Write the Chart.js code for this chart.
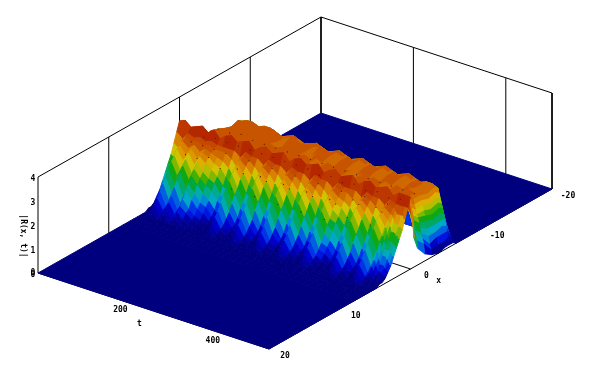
<!DOCTYPE html>
<html>
<head>
<meta charset="utf-8">
<style>
  html, body { margin: 0; padding: 0; background: #fff; }
  canvas { display: block; }
</style>
<script src="https://cdn.jsdelivr.net/npm/chart.js@4/dist/chart.umd.js"></script>
</head>
<body>
<canvas id="surface" width="591" height="367"></canvas>
<script>
// grid of the surface
const tValues = [0,12.5,25,37.5,50,62.5,75,87.5,100,112.5,125,137.5,150,162.5,175,187.5,200,212.5,225,237.5,250,262.5,275,287.5,300,312.5,325,337.5,350,362.5,375,387.5,400,412.5,425,437.5,450,462.5,475,477.5,480,482.5,485,487.5,490,492.5,495,497.5,500];
const xValues = [-7,-6.5,-6,-5.5,-5,-4,-3,-2,-1,-0.5,0,0.4,0.8,1.2,1.6,2,2.4,2.8,3.2,3.6,4,4.4,4.8,5.2,5.6,6,6.5,7,8];

// |R(x,t)|, one row per t: part behind the crest (x -7..-0.5)
const zBack = [
  [0,0,0,0,0,0,0,0,.3,1.6],
  [0,0,0,0,0,0,0,.5,1.8,2.4],
  [0,0,0,0,0,.1,.9,2.1,2.4,2.5],
  [0,0,0,.3,1,2.2,2.4,2.5,2.4,2.6],
  [0,.1,1.1,2.4,2.5,2.4,2.5,2.4,2.5,2.5],
  [0,.1,1.2,2.5,2.5,2.5,2.4,2.5,2.5,2.4],
  [0,.1,1.1,2.5,2.6,2.4,2.5,2.4,2.5,2.6],
  [0,.1,1.1,2.4,2.5,2.5,2.5,2.5,2.5,2.5],
  [0,.1,1.2,2.5,2.4,2.4,2.6,2.4,2.5,2.4],
  [0,.1,1.1,2.5,2.5,2.5,2.4,2.5,2.5,2.6],
  [0,.1,1,2.4,2.6,2.4,2.5,2.4,2.4,2.5],
  [0,.1,1.1,2.3,2.5,2.5,2.4,2.5,2.5,2.4],
  [0,.1,1.2,2.4,2.4,2.4,2.5,2.5,2.5,2.6],
  [0,.1,1.1,2.5,2.5,2.3,2.4,2.4,2.5,2.5],
  [0,.1,1,2.4,2.5,2.5,2.5,2.5,2.4,2.4],
  [0,.1,1.1,2.3,2.4,2.4,2.4,2.4,2.5,2.6],
  [0,.1,1.2,2.4,2.5,2.5,2.5,2.5,2.5,2.5],
  [0,.1,1.1,2.5,2.4,2.4,2.4,2.4,2.5,2.4],
  [0,.1,1,2.4,2.5,2.3,2.5,2.5,2.4,2.6],
  [0,.1,1.1,2.3,2.5,2.5,2.4,2.4,2.5,2.5],
  [0,.1,1.2,2.4,2.4,2.4,2.5,2.5,2.5,2.4],
  [0,.1,1.1,2.5,2.5,2.5,2.4,2.3,2.5,2.6],
  [0,.1,1,2.4,2.4,2.3,2.5,2.5,2.5,2.5],
  [0,.1,1.1,2.3,2.5,2.5,2.4,2.4,2.4,2.4],
  [0,.1,1.2,2.4,2.4,2.4,2.5,2.5,2.5,2.6],
  [0,.1,1.1,2.5,2.5,2.5,2.4,2.4,2.5,2.5],
  [0,.1,1,2.4,2.4,2.3,2.5,2.5,2.5,2.4],
  [0,.1,1.1,2.3,2.5,2.5,2.4,2.3,2.4,2.6],
  [0,.1,1.2,2.4,2.4,2.4,2.5,2.5,2.5,2.5],
  [0,.1,1.1,2.5,2.5,2.5,2.4,2.4,2.5,2.4],
  [0,.1,1,2.4,2.4,2.3,2.5,2.5,2.5,2.6],
  [0,.1,1.1,2.3,2.5,2.5,2.4,2.4,2.4,2.5],
  [0,.1,1.2,2.4,2.4,2.4,2.5,2.5,2.5,2.4],
  [0,.1,1.1,2.5,2.5,2.5,2.4,2.3,2.5,2.6],
  [0,.1,1,2.4,2.4,2.3,2.5,2.5,2.5,2.5],
  [0,.1,1.1,2.3,2.5,2.5,2.4,2.4,2.4,2.4],
  [0,.1,1.2,2.4,2.4,2.4,2.5,2.5,2.5,2.6],
  [0,.1,1.1,2.4,2.5,2.4,2.4,2.4,2.5,2.5],
  [0,.1,1.1,2.3,2.4,2.3,2.4,2.4,2.5,2.6],
  [0,.1,1,2.1,2.2,2.1,2.2,2.2,2.4,2.6],
  [0,.1,.9,1.9,2,1.9,2,2,2.3,2.6],
  [0,.1,.8,1.7,1.8,1.7,1.8,1.8,2.1,2.6],
  [0,.1,.7,1.5,1.6,1.5,1.6,1.7,2,2.5],
  [0,.1,.6,1.3,1.4,1.3,1.4,1.5,1.8,2.4],
  [0,.1,.5,1.1,1.1,1.1,1.1,1.3,1.6,2.3],
  [0,.1,.4,.8,.9,.8,.8,1.1,1.4,2.2],
  [0,.1,.3,.6,.6,.6,.5,.9,1.3,2.1],
  [0,0,.2,.4,.3,.3,.3,.7,1,2],
  [0,0,.1,.1,.1,0,.1,.3,.7,1.2]
];

// same rows, crest and front slope (x 0..8)
const zFront = [
  [3,2.6,2.2,1.8,1.5,1.2,.9,.6,.4,.2,.1,.1,0,0,0,0,0,0,0],
  [3.1,2.4,2,1.6,1.3,1,.7,.5,.3,.2,.1,.1,0,0,0,0,0,0,0],
  [2.9,2.7,2.6,2.5,2.4,2.3,2.1,1.9,1.7,1.4,1.2,.9,.7,.5,.3,.2,.1,0,0],
  [3,2.6,2.5,2.3,2.1,1.9,1.6,1.4,1.1,.8,.6,.4,.3,.2,.1,.1,0,0,0],
  [3.1,2.7,2.6,2.5,2.4,2.3,2.1,1.9,1.7,1.4,1.2,.9,.7,.5,.3,.2,.1,0,0],
  [2.9,2.6,2.5,2.3,2.1,1.9,1.6,1.4,1.1,.8,.6,.4,.3,.2,.1,.1,0,0,0],
  [3.1,2.7,2.6,2.5,2.4,2.3,2.1,1.9,1.7,1.4,1.2,.9,.7,.5,.3,.2,.1,0,0],
  [2.8,2.6,2.5,2.4,2.3,2.1,1.8,1.6,1.4,1.1,.9,.6,.5,.3,.2,.1,0,0,0],
  [3,2.6,2.5,2.3,2.1,1.9,1.6,1.4,1.1,.8,.6,.4,.3,.2,.1,.1,0,0,0],
  [3.1,2.6,2.5,2.2,2,1.7,1.5,1.2,.9,.7,.5,.3,.2,.1,.1,0,0,0,0],
  [2.9,2.6,2.3,2,1.7,1.4,1.1,.9,.6,.4,.3,.2,.1,0,0,0,0,0,0],
  [3,2.4,2,1.6,1.3,1,.7,.5,.3,.2,.1,.1,0,0,0,0,0,0,0],
  [3.1,2.7,2.6,2.5,2.4,2.3,2.1,1.9,1.7,1.4,1.2,.9,.7,.5,.3,.2,.1,0,0],
  [2.8,2.6,2.5,2.3,2.1,1.9,1.6,1.4,1.1,.8,.6,.4,.3,.2,.1,.1,0,0,0],
  [3,2.6,2.3,2,1.7,1.4,1.1,.9,.6,.4,.3,.2,.1,0,0,0,0,0,0],
  [3.1,2.4,2,1.6,1.3,1,.7,.5,.3,.2,.1,.1,0,0,0,0,0,0,0],
  [2.9,2.7,2.6,2.5,2.4,2.3,2.1,1.9,1.7,1.4,1.2,.9,.7,.5,.3,.2,.1,0,0],
  [3,2.6,2.5,2.3,2.1,1.9,1.6,1.4,1.1,.8,.6,.4,.3,.2,.1,.1,0,0,0],
  [3.1,2.6,2.3,2,1.7,1.4,1.1,.9,.6,.4,.3,.2,.1,0,0,0,0,0,0],
  [2.8,2.4,2,1.6,1.3,1,.7,.5,.3,.2,.1,.1,0,0,0,0,0,0,0],
  [3,2.7,2.6,2.5,2.4,2.3,2.1,1.9,1.7,1.4,1.2,.9,.7,.5,.3,.2,.1,0,0],
  [3.1,2.6,2.5,2.3,2.1,1.9,1.6,1.4,1.1,.8,.6,.4,.3,.2,.1,.1,0,0,0],
  [2.9,2.6,2.3,2,1.7,1.4,1.1,.9,.6,.4,.3,.2,.1,0,0,0,0,0,0],
  [3,2.4,2,1.6,1.3,1,.7,.5,.3,.2,.1,.1,0,0,0,0,0,0,0],
  [3.1,2.7,2.6,2.5,2.4,2.3,2.1,1.9,1.7,1.4,1.2,.9,.7,.5,.3,.2,.1,0,0],
  [2.8,2.6,2.5,2.3,2.1,1.9,1.6,1.4,1.1,.8,.6,.4,.3,.2,.1,.1,0,0,0],
  [3,2.6,2.3,2,1.7,1.4,1.1,.9,.6,.4,.3,.2,.1,0,0,0,0,0,0],
  [3.1,2.4,2,1.6,1.3,1,.7,.5,.3,.2,.1,.1,0,0,0,0,0,0,0],
  [2.9,2.7,2.6,2.5,2.4,2.3,2.1,1.9,1.7,1.4,1.2,.9,.7,.5,.3,.2,.1,0,0],
  [3,2.6,2.5,2.3,2.1,1.9,1.6,1.4,1.1,.8,.6,.4,.3,.2,.1,.1,0,0,0],
  [3.1,2.6,2.5,2.2,2,1.7,1.5,1.2,.9,.7,.5,.3,.2,.1,.1,0,0,0,0],
  [2.8,2.6,2.3,2,1.7,1.4,1.1,.9,.6,.4,.3,.2,.1,0,0,0,0,0,0],
  [3,2.4,2,1.6,1.3,1,.7,.5,.3,.2,.1,.1,0,0,0,0,0,0,0],
  [3.1,2.7,2.6,2.5,2.4,2.3,2.1,1.9,1.7,1.4,1.2,.9,.7,.5,.3,.2,.1,0,0],
  [2.9,2.6,2.5,2.3,2.1,1.9,1.6,1.4,1.1,.8,.6,.4,.3,.2,.1,.1,0,0,0],
  [3,2.6,2.3,2,1.7,1.4,1.1,.9,.6,.4,.3,.2,.1,0,0,0,0,0,0],
  [3.1,2.4,2,1.6,1.3,1,.7,.5,.3,.2,.1,.1,0,0,0,0,0,0,0],
  [2.8,2.7,2.6,2.5,2.4,2.3,2.1,1.9,1.7,1.4,1.2,.9,.7,.5,.3,.2,.1,0,0],
  [3,2.6,2.5,2.3,2.1,1.9,1.6,1.4,1.1,.8,.6,.4,.3,.2,.1,.1,0,0,0],
  [3,2.6,2.5,2.3,2.1,1.9,1.6,1.4,1.1,.8,.6,.4,.3,.2,.1,.1,0,0,0],
  [3,2.6,2.4,2.2,1.9,1.6,1.4,1.1,.8,.6,.4,.3,.2,.1,.1,0,0,0,0],
  [3,2.6,2.3,2,1.7,1.4,1.1,.9,.6,.4,.3,.2,.1,0,0,0,0,0,0],
  [3,2.6,2.3,2,1.7,1.4,1.1,.9,.6,.4,.3,.2,.1,0,0,0,0,0,0],
  [3,2.6,2.3,2,1.7,1.4,1.1,.9,.6,.4,.3,.2,.1,0,0,0,0,0,0],
  [3,2.6,2.3,2,1.7,1.4,1.1,.8,.6,.4,.2,.1,0,0,0,0,0,0,0],
  [3,2.6,2.3,1.9,1.6,1.3,1,.8,.5,.3,.2,.1,0,0,0,0,0,0,0],
  [3,2.6,2.3,1.9,1.6,1.3,1,.7,.5,.3,.1,.1,0,0,0,0,0,0,0],
  [3,2.6,2.2,1.9,1.5,1.2,.9,.6,.4,.2,.1,.1,0,0,0,0,0,0,0],
  [3,2.6,2.2,1.8,1.5,1.2,.9,.6,.4,.2,.1,.1,0,0,0,0,0,0,0]
];

// small dark specks on the top of the ridge: [row index, column index]
const speckRows = [3,5,7,9,11,13,15,17,19,21,23,25,27,29,31,33,35,37];
const speckColumns = [6,8,12,14];

// axis ranges and ticks
const tRange = [0, 500];
const xRange = [-20, 20];
const zRange = [0, 4];
const tTicks = [0, 200, 400];
const xTicks = [20, 10, 0, -10, -20];
const zTicks = [0, 1, 2, 3, 4];

// jet-like colour steps from z = 0 to zTop
const zTop = 3;
const palette = ["#00007f","#00008c","#0000a8","#0000c8","#0014e0","#0034e8","#0060e0","#0088dc","#00a8c8","#00aab0","#00aa90","#00a860","#00a838","#10a810","#44b000","#80b800","#b0c000","#d0c400","#dcb000","#dc9800","#d88000","#d06800","#c85400","#c44800","#bc3800","#b42800","#a81400"];

// view: corner of the box at t=0, x=-20, z=0 and screen steps per data unit
const view = { x0: 321, y0: 113, tx: 0.462, ty: 0.152, xx: -7.075, xy: 4, zy: -24 };

function project(t, x, z) {
  const u = x - xRange[0];
  return {
    x: view.x0 + view.tx * t + view.xx * u,
    y: view.y0 + view.ty * t + view.xy * u + view.zy * z
  };
}

function colorFor(z) {
  const i = Math.floor(z / zTop * palette.length);
  return palette[Math.max(0, Math.min(palette.length - 1, i))];
}

function line(points, color) {
  return { data: points, showLine: true, fill: false, borderColor: color, borderWidth: 1, pointRadius: 0 };
}

function patch(points, color) {
  return { data: points.concat([points[0]]), showLine: true, fill: "shape", backgroundColor: color, borderColor: color, borderWidth: 1, pointRadius: 0 };
}

function floorPatch(x1, x2) {
  return patch([project(tRange[0], x1, 0), project(tRange[1], x1, 0), project(tRange[1], x2, 0), project(tRange[0], x2, 0)], palette[0]);
}

// back to front, chart.js paints the last dataset first so this gets reversed
const sets = [];
const [t0, t1] = tRange, [x0, x1] = xRange, [z0, z1] = zRange;
// box
[[t0,x1,z0,t0,x1,z1],[t0,x1,z1,t0,x0,z1],[t0,x0,z1,t0,x0,z0],[t0,x0,z1,t1,x0,z1],[t1,x0,z1,t1,x0,z0],
 [t0,10,z0,t0,10,z1],[t0,0,z0,t0,0,z1],[t0,-10,z0,t0,-10,z1],[200,x0,z0,200,x0,z1],[400,x0,z0,400,x0,z1],
 [t0,x1,z0,t1,x1,z0],[t1,x1,z0,t1,x0,z0],[t0,0,z0,t1,0,z0]].forEach(s => {
  sets.push(line([project(s[0], s[1], s[2]), project(s[3], s[4], s[5])], "#000"));
});
sets.push(floorPatch(x0, xValues[0]));
for (let i = 0; i < tValues.length - 1; i++) {
  const a = zBack[i].concat(zFront[i]), b = zBack[i + 1].concat(zFront[i + 1]);
  for (let j = 0; j < xValues.length - 1; j++) {
    const mean = (a[j] + a[j + 1] + b[j] + b[j + 1]) / 4;
    sets.push(patch([
      project(tValues[i], xValues[j], a[j]),
      project(tValues[i], xValues[j + 1], a[j + 1]),
      project(tValues[i + 1], xValues[j + 1], b[j + 1]),
      project(tValues[i + 1], xValues[j], b[j])
    ], colorFor(mean)));
  }
}
sets.push(floorPatch(xValues[xValues.length - 1], x1));

const specks = [];
speckRows.forEach(i => speckColumns.forEach(j => {
  const z = zBack[i].concat(zFront[i])[j];
  specks.push(project(tValues[i], xValues[j], z));
}));
sets.push({ data: specks, showLine: false, pointRadius: 0.6, pointBorderWidth: 0, pointBackgroundColor: "#4a1800" });
sets.reverse();

// tick labels and axis titles
const labelsPlugin = {
  id: "axisLabels",
  afterDraw(chart) {
    const c = chart.ctx, sx = chart.scales.x, sy = chart.scales.y;
    c.save();
    c.fillStyle = "#000";
    c.font = "bold 8px 'DejaVu Sans Mono'";
    c.textAlign = "center";
    c.textBaseline = "middle";
    const put = (txt, p, dx, dy) => c.fillText(txt, sx.getPixelForValue(p.x) + dx, sy.getPixelForValue(p.y) + dy);
    zTicks.forEach(z => put(String(z), project(t0, x1, z), -5, 2));
    tTicks.forEach(t => put(String(t), project(t, x1, z0), t ? -10 : -5, t ? 7 : 0));
    xTicks.forEach(x => put(String(x), project(t1, x, z0), 16, 7));
    put("t", project(250, x1, z0), -14, 13);
    put("x", project(t1, -2, z0), 14, 20);
    c.translate(sx.getPixelForValue(23), sy.getPixelForValue(236));
    c.rotate(Math.PI / 2);
    c.fillText("|R(x, t)|", 0, 0);
    c.restore();
  }
};

new Chart(document.getElementById("surface"), {
  type: "scatter",
  data: { datasets: sets },
  plugins: [labelsPlugin],
  options: {
    responsive: false,
    animation: false,
    parsing: false,
    layout: { padding: 0, autoPadding: false },
    plugins: { legend: { display: false }, tooltip: { enabled: false }, title: { display: false } },
    events: [],
    scales: {
      x: { type: "linear", min: 0, max: 591, display: false },
      y: { type: "linear", min: 0, max: 367, reverse: true, display: false }
    }
  }
});
</script>
</body>
</html>
